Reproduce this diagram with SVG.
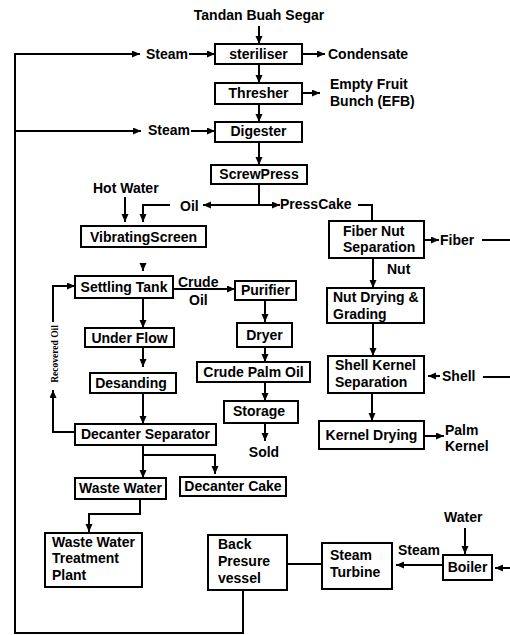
<svg xmlns="http://www.w3.org/2000/svg" width="510" height="635" viewBox="0 0 510 635">
<style>
text{font-family:"Liberation Sans",Arial,sans-serif;font-weight:bold;font-size:14px;fill:#000}
.m{text-anchor:middle}
.box{fill:#fff;stroke:#000;stroke-width:2}
.c{fill:none;stroke:#000;stroke-width:2}
.ro{font-family:"Liberation Serif","Times New Roman",serif;font-size:9.5px}
</style>
<defs>
<marker id="a" markerUnits="userSpaceOnUse" markerWidth="9" markerHeight="8" refX="8" refY="3.5" orient="auto"><path d="M0,0 L8,3.5 L0,7 z" fill="#000"/></marker>
</defs>
<rect width="510" height="635" fill="#fff"/>
<g id="connectors">
<path class="c" d="M259,26 V44" marker-end="url(#a)"/>
<path class="c" d="M189,54 H215" marker-end="url(#a)"/>
<path class="c" d="M302,54 H325" marker-end="url(#a)"/>
<path class="c" d="M259,64 V83" marker-end="url(#a)"/>
<path class="c" d="M302,93 H320" marker-end="url(#a)"/>
<path class="c" d="M259,104 V122" marker-end="url(#a)"/>
<path class="c" d="M191,131 H215" marker-end="url(#a)"/>
<path class="c" d="M259,142 V165" marker-end="url(#a)"/>
<path class="c" d="M259,184 V205 H203" marker-end="url(#a)"/>
<path class="c" d="M259,205 H280" marker-end="url(#a)"/>
<path class="c" d="M358,205 H372 V221"/>
<path class="c" d="M170,205 H143 V222" marker-end="url(#a)"/>
<path class="c" d="M125,197 V222" marker-end="url(#a)"/>
<path class="c" d="M143,263 V271" marker-end="url(#a)"/>
<path class="c" d="M173,289 H235" marker-end="url(#a)"/>
<path class="c" d="M265,300 V322" marker-end="url(#a)"/>
<path class="c" d="M265,347 V362" marker-end="url(#a)"/>
<path class="c" d="M265,382 V401" marker-end="url(#a)"/>
<path class="c" d="M265,423 V441" marker-end="url(#a)"/>
<path class="c" d="M143,298 V328" marker-end="url(#a)"/>
<path class="c" d="M143,347 V367" marker-end="url(#a)"/>
<path class="c" d="M143,393 V424" marker-end="url(#a)"/>
<path class="c" d="M75,432 H53 V390" marker-end="url(#a)"/>
<path class="c" d="M53,322 V286 H75" marker-end="url(#a)"/>
<path class="c" d="M143,445 V478" marker-end="url(#a)"/>
<path class="c" d="M143,455 H215 V474" marker-end="url(#a)"/>
<path class="c" d="M140,499 V514 H89 V532" marker-end="url(#a)"/>
<path class="c" d="M287,564 H322"/>
<path class="c" d="M443,565 H396" marker-end="url(#a)"/>
<path class="c" d="M465,528 V554" marker-end="url(#a)"/>
<path class="c" d="M510,568 H495" marker-end="url(#a)"/>
<path class="c" d="M243,590 V633 H15 V54 H140" marker-end="url(#a)"/>
<path class="c" d="M15,131 H141" marker-end="url(#a)"/>
<path class="c" d="M424,240 H439" marker-end="url(#a)"/>
<path class="c" d="M482,240 H510"/>
<path class="c" d="M373,258 V288" marker-end="url(#a)"/>
<path class="c" d="M373,323 V356" marker-end="url(#a)"/>
<path class="c" d="M372,393 V421" marker-end="url(#a)"/>
<path class="c" d="M440,376 H428" marker-end="url(#a)"/>
<path class="c" d="M483,377 H510"/>
<path class="c" d="M424,436 H444" marker-end="url(#a)"/>
</g>
<g id="labels">
<text class="m" x="259" y="20">Tandan Buah Segar</text>
<text x="146" y="59">Steam</text>
<text x="328" y="59">Condensate</text>
<text x="330" y="89">Empty Fruit</text>
<text x="330" y="106">Bunch (EFB)</text>
<text x="148" y="135">Steam</text>
<text x="93" y="193">Hot Water</text>
<text x="180" y="211">Oil</text>
<text x="280" y="209">PressCake</text>
<text x="178" y="287">Crude</text>
<text x="189" y="305">Oil</text>
<text class="m" x="264" y="457">Sold</text>
<text class="ro" transform="translate(58,354) rotate(-90)" text-anchor="middle">Recovered Oil</text>
<text x="440" y="245">Fiber</text>
<text x="387" y="274">Nut</text>
<text x="442" y="381">Shell</text>
<text x="445" y="435">Palm</text>
<text x="445" y="451">Kernel</text>
<text x="444" y="522">Water</text>
<text x="398" y="555">Steam</text>
</g>
<g id="steriliser"><rect class="box" x="215" y="44" width="87" height="20"/><text class="m" x="258.5" y="59">steriliser</text></g>
<g id="thresher"><rect class="box" x="215" y="83" width="87" height="21"/><text class="m" x="258.5" y="98">Thresher</text></g>
<g id="digester"><rect class="box" x="215" y="122" width="87" height="20"/><text class="m" x="258.5" y="136">Digester</text></g>
<g id="screwpress"><rect class="box" x="211" y="165" width="96" height="19"/><text class="m" x="259" y="179">ScrewPress</text></g>
<g id="vibratingscreen"><rect class="box" x="81" y="226" width="125" height="21"/><text class="m" x="143.5" y="241.5">VibratingScreen</text></g>
<g id="settlingtank"><rect class="box" x="75" y="276" width="98" height="22"/><text class="m" x="124" y="292">Settling Tank</text></g>
<g id="purifier"><rect class="box" x="235" y="281" width="61" height="19"/><text class="m" x="265.5" y="295">Purifier</text></g>
<g id="underflow"><rect class="box" x="85" y="328" width="89" height="19"/><text class="m" x="129.5" y="342.5">Under Flow</text></g>
<g id="dryer"><rect class="box" x="237" y="323" width="55" height="24"/><text class="m" x="264.5" y="340">Dryer</text></g>
<g id="crudepalmoil"><rect class="box" x="197" y="362" width="113" height="20"/><text class="m" x="253.5" y="377">Crude Palm Oil</text></g>
<g id="desanding"><rect class="box" x="90" y="373" width="86" height="20"/><text class="m" x="131" y="388">Desanding</text></g>
<g id="storage"><rect class="box" x="224" y="401" width="74" height="22"/><text class="m" x="259" y="416">Storage</text></g>
<g id="decanterseparator"><rect class="box" x="75" y="424" width="141" height="21"/><text class="m" x="145.5" y="439">Decanter Separator</text></g>
<g id="wastewater"><rect class="box" x="75" y="478" width="91" height="21"/><text class="m" x="120.5" y="493">Waste Water</text></g>
<g id="decantercake"><rect class="box" x="180" y="477" width="106" height="19"/><text class="m" x="233" y="491">Decanter Cake</text></g>
<g id="wwtp"><rect class="box" x="45" y="533" width="97" height="54"/><text x="52" y="547">Waste Water</text><text x="52" y="563">Treatment</text><text x="52" y="580">Plant</text></g>
<g id="backpressurevessel"><rect class="box" x="208" y="535" width="79" height="55"/><text x="218" y="549">Back</text><text x="218" y="566">Presure</text><text x="218" y="583">vessel</text></g>
<g id="steamturbine"><rect class="box" x="322" y="543" width="70" height="46"/><text x="330" y="560">Steam</text><text x="330" y="577">Turbine</text></g>
<g id="boiler"><rect class="box" x="443" y="555" width="49" height="25"/><text class="m" x="467.5" y="572">Boiler</text></g>
<g id="fibernutseparation"><rect class="box" x="329" y="221" width="95" height="37"/><text x="343" y="236">Fiber Nut</text><text x="343" y="252">Separation</text></g>
<g id="nutdrying"><rect class="box" x="327" y="288" width="97" height="35"/><text x="333" y="302">Nut Drying &amp;</text><text x="333" y="319">Grading</text></g>
<g id="shellkernel"><rect class="box" x="328" y="356" width="96" height="37"/><text x="335" y="370">Shell Kernel</text><text x="335" y="387">Separation</text></g>
<g id="kerneldrying"><rect class="box" x="319" y="421" width="105" height="28"/><text class="m" x="371.5" y="440">Kernel Drying</text></g>
</svg>
